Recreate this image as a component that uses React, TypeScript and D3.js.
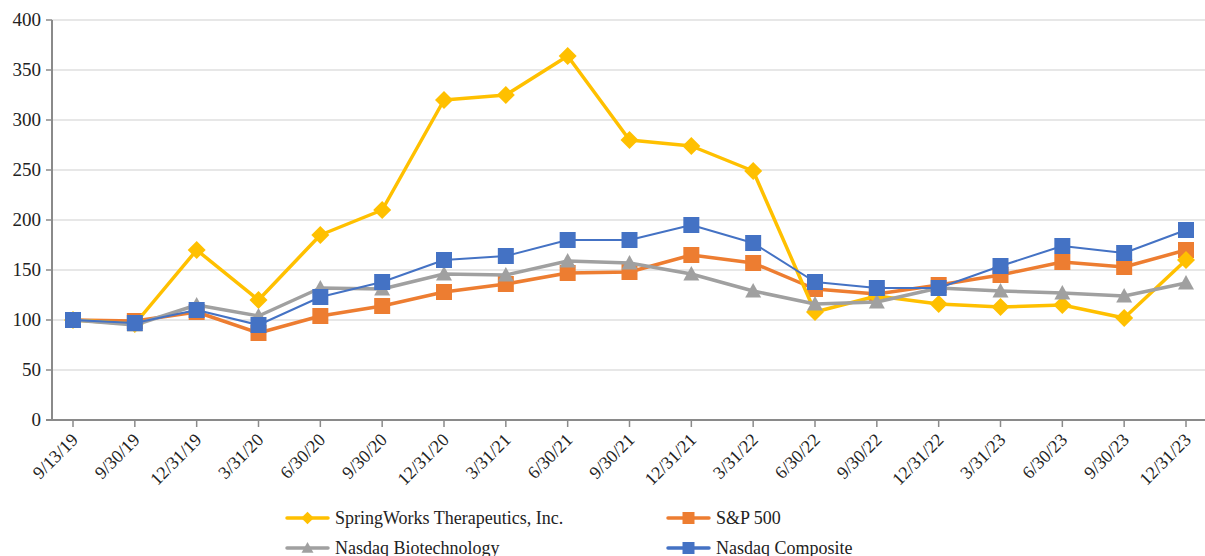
import React from 'react';
import * as d3 from 'd3';

const dates = ['9/13/19', '9/30/19', '12/31/19', '3/31/20', '6/30/20', '9/30/20', '12/31/20', '3/31/21', '6/30/21', '9/30/21', '12/31/21', '3/31/22', '6/30/22', '9/30/22', '12/31/22', '3/31/23', '6/30/23', '9/30/23', '12/31/23'];
const springWorks = [100, 96, 170, 120, 185, 210, 320, 325, 364, 280, 274, 249, 108, 124, 116, 113, 115, 102, 160];
const sp500 = [100, 99, 108, 87, 104, 114, 128, 136, 147, 148, 165, 157, 131, 126, 135, 145, 158, 153, 170];
const nasdaqBio = [100, 95, 115, 104, 132, 131, 146, 145, 159, 157, 146, 129, 116, 118, 132, 129, 127, 124, 137];
const nasdaqComp = [100, 97, 110, 95, 123, 138, 160, 164, 180, 180, 195, 177, 138, 132, 132, 154, 174, 167, 190];
const yTicks = [0, 50, 100, 150, 200, 250, 300, 350, 400];

const series = [
    { name: 'SpringWorks Therapeutics, Inc.', values: springWorks, color: '#FFC000', width: 3.5, marker: 'diamond' },
    { name: 'S&P 500', values: sp500, color: '#ED7D31', width: 3.5, marker: 'square' },
    { name: 'Nasdaq Biotechnology', values: nasdaqBio, color: '#A0A0A0', width: 3.5, marker: 'triangle' },
    { name: 'Nasdaq Composite', values: nasdaqComp, color: '#4472C4', width: 2, marker: 'square' },
];
// paint order seen in the picture: S&P under SpringWorks, biotech and composite on top
const drawOrder = [1, 0, 2, 3];

const font = 'Liberation Serif';
const width = 1205;
const height = 556;
const left = 52;
const top = 20;
const bottom = 420;

function markerPath(type: string, cx: number, cy: number, k = 1) {
    if (type === 'diamond') {
        const r = 9 * k;
        return `M${cx},${cy - r}L${cx + r},${cy}L${cx},${cy + r}L${cx - r},${cy}Z`;
    }
    if (type === 'triangle') {
        const r = 8 * k;
        return `M${cx},${cy - r}L${cx + r},${cy + r * 0.8}L${cx - r},${cy + r * 0.8}Z`;
    }
    const s = 8 * k;
    return `M${cx - s},${cy - s}h${2 * s}v${2 * s}h${-2 * s}Z`;
}

export default function App() {
    const x = d3.scalePoint<string>().domain(dates).range([73, 1186]);
    const y = d3.scaleLinear().domain([0, 400]).range([bottom, top]);

    const line = d3.line<number>()
        .x((d, i) => x(dates[i]) as number)
        .y(d => y(d));

    const legendPos = [
        { x: 287, y: 518 },
        { x: 668, y: 518 },
        { x: 287, y: 548 },
        { x: 668, y: 548 },
    ];

    return (
        <svg
            width={width}
            height={height}
            viewBox={`0 0 ${width} ${height}`}
            style={{ position: 'absolute', left: 0, top: 0, background: '#fff' }}
        >
            {/* grid */}
            {yTicks.filter(d => d > 0).map(d => (
                <line key={d} x1={left} x2={width} y1={y(d)} y2={y(d)} stroke="#d0d0d0" strokeWidth={1.2} />
            ))}

            {/* y axis */}
            <line x1={left} x2={left} y1={top} y2={bottom} stroke="#8a8a8a" strokeWidth={2} />
            {yTicks.map(d => (
                <g key={d} transform={`translate(${left},${y(d)})`}>
                    <line x1={-6} x2={0} stroke="#8a8a8a" strokeWidth={1.5} />
                    <text x={-11} dy="0.33em" textAnchor="end" fontFamily={font} fontSize={19} fill="#222">{d}</text>
                </g>
            ))}

            {/* x axis */}
            <line x1={left - 6} x2={width} y1={bottom} y2={bottom} stroke="#8a8a8a" strokeWidth={2} />
            {dates.map(d => (
                <g key={d} transform={`translate(${x(d)},${bottom})`}>
                    <line y1={0} y2={7} stroke="#8a8a8a" strokeWidth={1.5} />
                    <text
                        textAnchor="end"
                        transform="translate(6,21) rotate(-45)"
                        fontFamily={font}
                        fontSize={18}
                        fill="#222"
                    >
                        {d}
                    </text>
                </g>
            ))}

            {/* series */}
            {drawOrder.map(k => series[k]).map(s => (
                <g key={s.name}>
                    <path d={line(s.values) || ''} fill="none" stroke={s.color} strokeWidth={s.width} strokeLinejoin="round" />
                    {s.values.map((v, i) => (
                        <path key={i} d={markerPath(s.marker, x(dates[i]) as number, y(v))} fill={s.color} />
                    ))}
                </g>
            ))}

            {/* legend */}
            {series.map((s, i) => (
                <g key={s.name} transform={`translate(${legendPos[i].x},${legendPos[i].y})`}>
                    <line x1={0} x2={41} stroke={s.color} strokeWidth={3.5} strokeLinecap="round" />
                    <path d={markerPath(s.marker, 20.5, 0, s.marker === 'diamond' ? 0.7 : 0.75)} fill={s.color} />
                    <text x={48} dy="0.35em" fontFamily={font} fontSize={18} fill="#222">{s.name}</text>
                </g>
            ))}
        </svg>
    );
}
